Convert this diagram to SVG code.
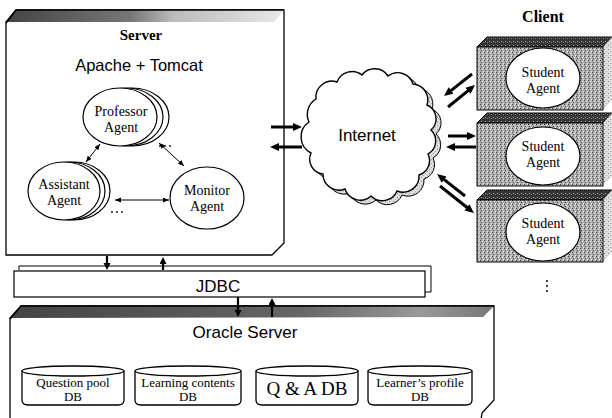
<svg xmlns="http://www.w3.org/2000/svg" width="612" height="418" viewBox="0 0 612 418">
<style>
.ol{fill:#fff;stroke:#000;stroke-width:1.3}
.ag{fill:#fff;stroke:#000;stroke-width:1.2}
.serif{font-family:"Liberation Serif","Times New Roman",serif;fill:#000;text-anchor:middle}
.sans{font-family:"Liberation Sans",Arial,sans-serif;fill:#000;text-anchor:middle}
.thin{stroke:#000;stroke-width:1;fill:none}
.thick{stroke:#000;stroke-width:3;fill:none}
.med{stroke:#000;stroke-width:2.2;fill:none}
.dot{fill:#000}
</style>
<defs>
<marker id="hThin" markerUnits="userSpaceOnUse" markerWidth="7" markerHeight="6" refX="6" refY="2.5" orient="auto-start-reverse"><path d="M0,0 L6,2.5 L0,5 Z" fill="#000"/></marker>
<marker id="hThick" markerUnits="userSpaceOnUse" markerWidth="10" markerHeight="9" refX="1" refY="4" orient="auto"><path d="M0,0 L9,4 L0,8 Z" fill="#000"/></marker>
<marker id="hMed" markerUnits="userSpaceOnUse" markerWidth="8" markerHeight="8" refX="1" refY="3.5" orient="auto"><path d="M0,0 L7,3.5 L0,7 Z" fill="#000"/></marker>
<pattern id="stipMid" width="4" height="4" patternUnits="userSpaceOnUse">
<rect width="4" height="4" fill="#aaa"/>
<rect x="0" y="0" width="1" height="1" fill="#444"/>
<rect x="2" y="1" width="1" height="1" fill="#f2f2f2"/>
<rect x="1" y="2" width="1" height="1" fill="#555"/>
<rect x="3" y="3" width="1" height="1" fill="#e6e6e6"/>
<rect x="3" y="0" width="1" height="1" fill="#ccc"/>
</pattern>
<pattern id="stipDark" width="4" height="4" patternUnits="userSpaceOnUse">
<rect width="4" height="4" fill="#353535"/>
<rect x="1" y="1" width="1" height="1" fill="#aaa"/>
<rect x="3" y="2" width="1" height="1" fill="#888"/>
</pattern>
<pattern id="stipLight" width="4" height="4" patternUnits="userSpaceOnUse">
<rect width="4" height="4" fill="#dedede"/>
<rect x="0" y="1" width="1" height="1" fill="#888"/>
<rect x="2" y="3" width="1" height="1" fill="#aaa"/>
</pattern>
<linearGradient id="srvBand" x1="0" y1="0" x2="1" y2="0">
<stop offset="0" stop-color="#444"/>
<stop offset="0.45" stop-color="#777"/>
<stop offset="0.6" stop-color="#bbb"/>
<stop offset="1" stop-color="#e8e8e8"/>
</linearGradient>
<linearGradient id="oraBand" x1="0" y1="0" x2="1" y2="0">
<stop offset="0" stop-color="#444"/>
<stop offset="0.6" stop-color="#666"/>
<stop offset="0.85" stop-color="#999"/>
<stop offset="1" stop-color="#777"/>
</linearGradient>
<path id="cloudShape" d="M309,122 A18,18 0 0 1 316,99 A16,16 0 0 1 337,82 A16,16 0 0 1 362,75 A16,16 0 0 1 388,76 A16,16 0 0 1 413,84 A16,16 0 0 1 427,105 A15,15 0 0 1 431,130 A15,15 0 0 1 428,154 A15,15 0 0 1 419,175 A16,16 0 0 1 397,191 A16,16 0 0 1 371,196 A16,16 0 0 1 345,189 A16,16 0 0 1 323,174 A15,15 0 0 1 311,153 A18,18 0 0 1 309,122 Z"/>
</defs>

<rect width="612" height="418" fill="#fff"/>

<g id="server">
<path class="ol" d="M6,255 L6,22 L16,10 L284,10 L284,243 L272,255 Z"/>
<polygon points="6,22 16,10 284,10 274,22" fill="url(#srvBand)"/>
<path d="M6,23 L16,10 L284,10" fill="none" stroke="#000" stroke-width="1.6"/>
<text class="serif" x="141" y="40" font-size="15" font-weight="bold">Server</text>
<text class="sans" x="139" y="71" font-size="16.5">Apache + Tomcat</text>
</g>

<g id="professor">
<ellipse class="ag" cx="132" cy="117" rx="37" ry="29"/>
<ellipse class="ag" cx="126" cy="117" rx="37" ry="29"/>
<ellipse class="ag" cx="120" cy="117" rx="37" ry="29"/>
<text class="serif" x="121" y="116" font-size="14">Professor</text>
<text class="serif" x="121" y="132" font-size="14">Agent</text>
</g>

<g id="assistant">
<ellipse class="ag" cx="74" cy="191" rx="36" ry="29"/>
<ellipse class="ag" cx="69" cy="191" rx="36" ry="29"/>
<ellipse class="ag" cx="64" cy="191" rx="36" ry="29"/>
<text class="serif" x="64" y="189" font-size="14">Assistant</text>
<text class="serif" x="64" y="205" font-size="14">Agent</text>
</g>

<g id="monitor">
<ellipse class="ag" cx="207" cy="198" rx="37" ry="31"/>
<text class="serif" x="207" y="195" font-size="14">Monitor</text>
<text class="serif" x="207" y="211" font-size="14">Agent</text>
</g>

<g id="internet">
<use href="#cloudShape" transform="translate(5,4)" fill="url(#stipLight)" stroke="#000" stroke-width="1"/>
<use href="#cloudShape" fill="#fff" stroke="#000" stroke-width="1.4"/>
<text class="sans" x="367" y="141" font-size="17">Internet</text>
</g>

<text class="serif" x="543" y="22" font-size="16" font-weight="bold">Client</text>

<g id="client1">
<polygon points="477,47 487,37 612,37 603,47" fill="url(#stipDark)" stroke="#000" stroke-width="1"/>
<polygon points="603,47 612,37 612,100 603,110" fill="url(#stipLight)"/>
<rect x="477" y="47" width="126" height="63" fill="url(#stipMid)" stroke="#000" stroke-width="1"/>
<ellipse class="ag" cx="543" cy="78" rx="37" ry="30"/>
<text class="serif" x="543" y="77" font-size="14">Student</text>
<text class="serif" x="543" y="93" font-size="14">Agent</text>
</g>

<g id="client2">
<polygon points="477,123 487,113 612,113 603,123" fill="url(#stipDark)" stroke="#000" stroke-width="1"/>
<polygon points="603,123 612,113 612,176 603,186" fill="url(#stipLight)"/>
<rect x="477" y="123" width="126" height="63" fill="url(#stipMid)" stroke="#000" stroke-width="1"/>
<ellipse class="ag" cx="543" cy="156" rx="37" ry="29"/>
<text class="serif" x="543" y="151" font-size="14">Student</text>
<text class="serif" x="543" y="167" font-size="14">Agent</text>
</g>

<g id="client3">
<polygon points="477,200 487,190 612,190 603,200" fill="url(#stipDark)" stroke="#000" stroke-width="1"/>
<polygon points="603,200 612,190 612,252 603,262" fill="url(#stipLight)"/>
<rect x="477" y="200" width="126" height="62" fill="url(#stipMid)" stroke="#000" stroke-width="1"/>
<ellipse class="ag" cx="543" cy="232" rx="37" ry="29"/>
<text class="serif" x="543" y="228" font-size="14">Student</text>
<text class="serif" x="543" y="244" font-size="14">Agent</text>
</g>

<g id="ellipses">
<circle class="dot" cx="160" cy="146" r="0.9"/><circle class="dot" cx="165" cy="146" r="0.9"/><circle class="dot" cx="170" cy="146" r="0.9"/>
<circle class="dot" cx="112" cy="212" r="0.9"/><circle class="dot" cx="117" cy="212" r="0.9"/><circle class="dot" cx="122" cy="212" r="0.9"/>
<circle class="dot" cx="547" cy="281" r="1"/><circle class="dot" cx="547" cy="286" r="1"/><circle class="dot" cx="547" cy="291" r="1"/>
</g>

<g id="jdbc">
<path d="M19,270 L19,266 L431,266 L431,292 L425,292" fill="none" stroke="#000" stroke-width="1"/>
<rect x="14" y="271" width="411" height="26" fill="#fff" stroke="#000" stroke-width="1.2"/>
<text class="sans" x="218" y="292" font-size="17">JDBC</text>
</g>

<g id="oracle">
<path class="ol" d="M10,420 L10,318 L21,306 L494,306 L494,400 L482,413 L481,420"/>
<polygon points="10,318 21,306 494,306 483,317" fill="url(#oraBand)"/>
<path d="M10,319 L21,306 L494,306" fill="none" stroke="#000" stroke-width="1.6"/>
<text class="sans" x="245" y="338" font-size="17">Oracle Server</text>
</g>

<g id="db-question">
<path class="ol" d="M22,371 L22,400 Q22,405 28,405 L118,405 Q124,405 124,400 L124,371"/>
<ellipse class="ol" cx="73" cy="371" rx="51" ry="5"/>
<text class="serif" x="73" y="387" font-size="13">Question pool</text>
<text class="serif" x="73" y="401" font-size="13">DB</text>
</g>
<g id="db-learning">
<path class="ol" d="M135,371 L135,400 Q135,405 141,405 L235,405 Q241,405 241,400 L241,371"/>
<ellipse class="ol" cx="188" cy="371" rx="53" ry="5"/>
<text class="serif" x="188" y="387" font-size="13">Learning contents</text>
<text class="serif" x="188" y="401" font-size="13">DB</text>
</g>
<g id="db-qa">
<path class="ol" d="M256,371 L256,400 Q256,405 262,405 L352,405 Q358,405 358,400 L358,371"/>
<ellipse class="ol" cx="307" cy="371" rx="51" ry="5"/>
<text class="serif" x="307" y="395" font-size="19">Q &amp; A DB</text>
</g>
<g id="db-learner">
<path class="ol" d="M368,371 L368,400 Q368,405 374,405 L466,405 Q472,405 472,400 L472,371"/>
<ellipse class="ol" cx="420" cy="371" rx="52" ry="5"/>
<text class="serif" x="420" y="387" font-size="13">Learner’s profile</text>
<text class="serif" x="420" y="401" font-size="13">DB</text>
</g>

<g id="connectors">
<line class="thin" x1="100" y1="144" x2="86" y2="162" marker-start="url(#hThin)" marker-end="url(#hThin)"/>
<line class="thin" x1="159" y1="143" x2="184" y2="166" marker-start="url(#hThin)" marker-end="url(#hThin)"/>
<line class="thin" x1="115" y1="200" x2="169" y2="200" marker-start="url(#hThin)" marker-end="url(#hThin)"/>
<line class="thick" x1="271" y1="127" x2="294" y2="127" marker-end="url(#hThick)"/>
<line class="thick" x1="302" y1="147" x2="278" y2="147" marker-end="url(#hThick)"/>
<line class="thick" x1="472" y1="74" x2="450.3" y2="91.1" marker-end="url(#hThick)"/>
<line class="thick" x1="448" y1="107" x2="468.8" y2="90.1" marker-end="url(#hThick)"/>
<line class="thick" x1="448" y1="136" x2="468" y2="136" marker-end="url(#hThick)"/>
<line class="thick" x1="476" y1="147" x2="454" y2="147" marker-end="url(#hThick)"/>
<line class="thick" x1="465" y1="196" x2="443.3" y2="178.9" marker-end="url(#hThick)"/>
<line class="thick" x1="440" y1="186" x2="467.7" y2="208" marker-end="url(#hThick)"/>
<line class="med" x1="107" y1="256" x2="107" y2="264" marker-end="url(#hMed)"/>
<line class="med" x1="163" y1="270" x2="163" y2="263" marker-end="url(#hMed)"/>
<line class="med" x1="238" y1="297" x2="238" y2="311" marker-end="url(#hMed)"/>
<line class="med" x1="272" y1="317" x2="272" y2="304" marker-end="url(#hMed)"/>
</g>
</svg>
